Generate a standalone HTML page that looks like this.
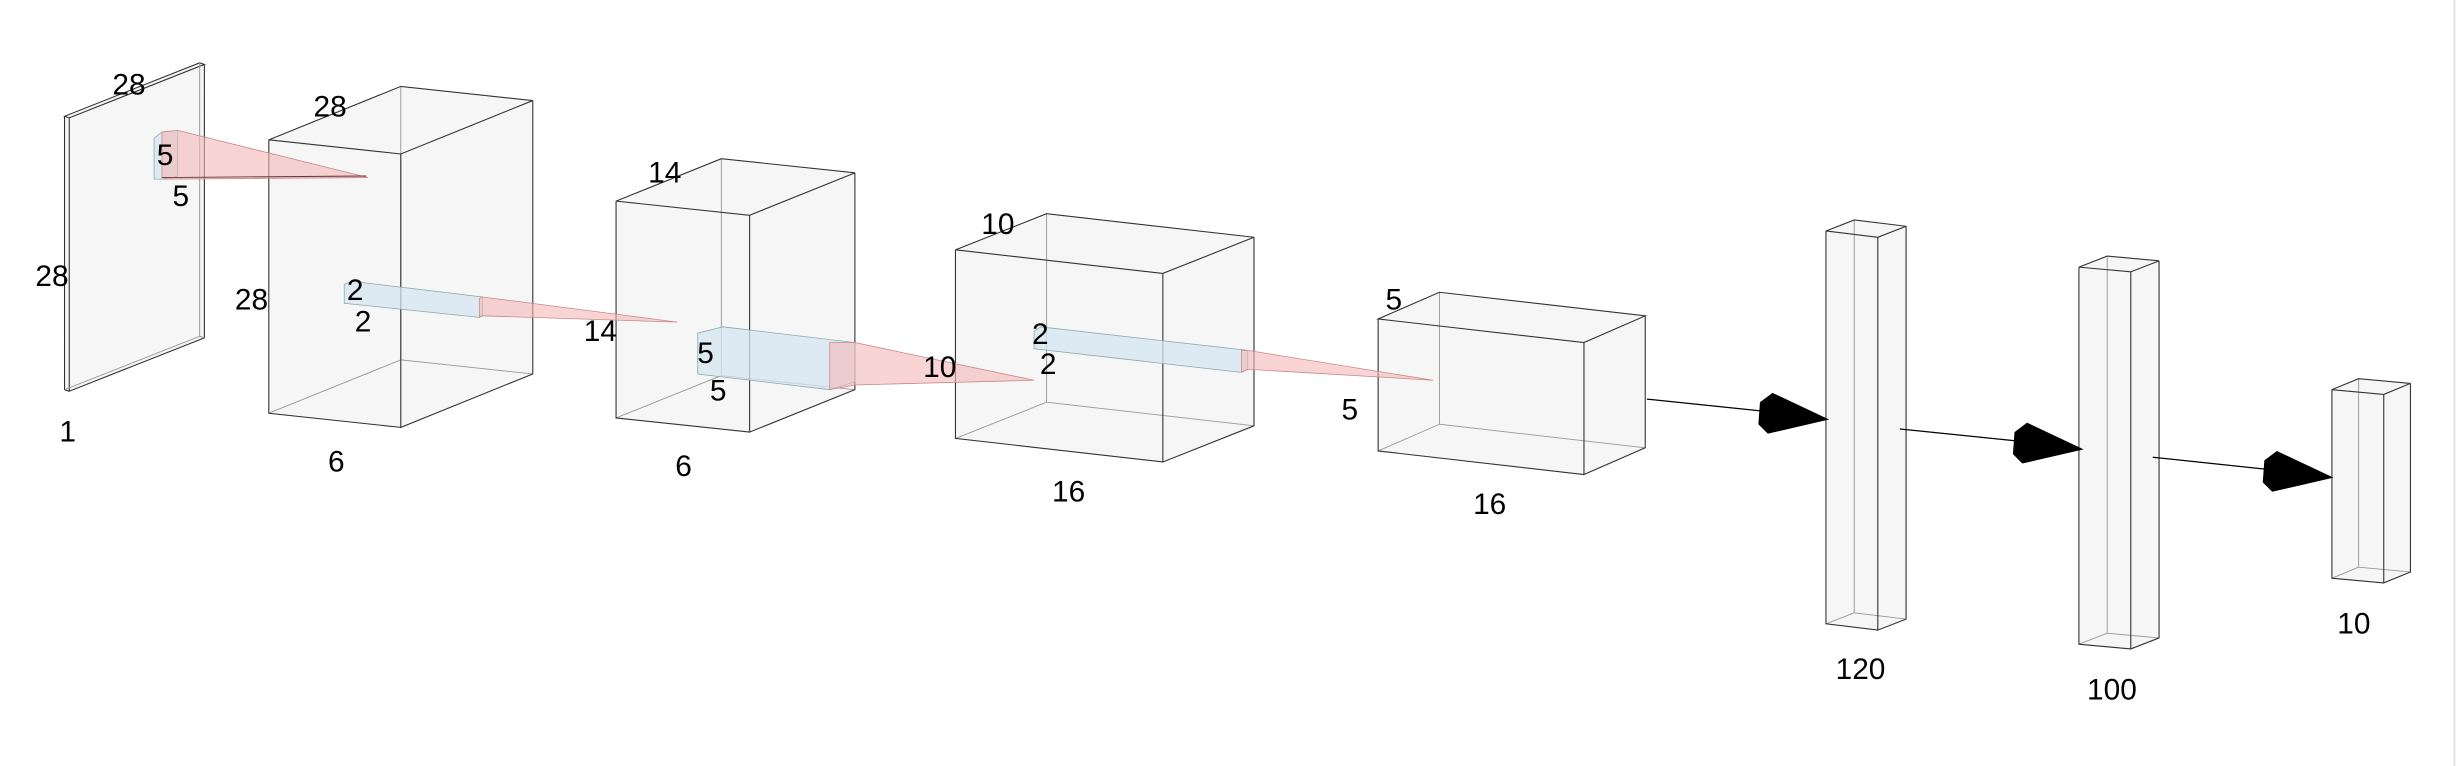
<!DOCTYPE html>
<html><head><meta charset="utf-8"><style>
html,body{margin:0;padding:0;background:#fff}
svg{display:block}
text{font-family:"Liberation Sans",sans-serif;font-size:19px;fill:#000;text-anchor:middle;dominant-baseline:middle}
.h{fill:#f4f4f4;fill-opacity:.85;stroke:none}
.v{fill:none;stroke:#333;stroke-width:.7}
.d{fill:none;stroke:#999;stroke-width:.6}
.bl{fill:#d6e6f2;fill-opacity:.75;stroke:#8aa;stroke-width:.5}
.pk{fill:#f4b8b8;fill-opacity:.6;stroke:#c88;stroke-width:.5}
</style></head><body>
<svg width="2464" height="766" viewBox="0 0 1568 487.5" xmlns="http://www.w3.org/2000/svg">
<rect width="1568" height="488" fill="#fff"/>
<line x1="1562" y1="0" x2="1562" y2="488" stroke="#ddd" stroke-width="1"/>

<!-- plate 1 -->
<polygon class="h" points="41,74 127,40 130,41 130,215 44,249 41,248"/>
<path class="v" d="M41,74 L44,75 L130,41 L127,40 Z M44,75 L44,249 L130,215 L130,41 M41,74 L41,248 L44,249"/>
<path class="d" d="M127,40 L127,214 L130,215 M41,248 L127,214"/>

<!-- box 2 -->
<polygon class="h" points="171,89 255,55 339,64 339,238 255,272 171,263"/>
<path class="d" d="M255,55 L255,229 L339,238 M171,263 L255,229"/>
<path class="v" d="M171,89 L255,98 L339,64 L255,55 Z M255,98 L255,272 L339,238 L339,64 M171,89 L171,263 L255,272"/>

<!-- box 3 -->
<polygon class="h" points="392,128 459,101 544,110 544,248 477,275 392,266"/>
<path class="d" d="M459,101 L459,239 L544,248 M392,266 L459,239"/>
<path class="v" d="M392,128 L477,137 L544,110 L459,101 Z M477,137 L477,275 L544,248 L544,110 M392,128 L392,266 L477,275"/>

<!-- box 4 -->
<polygon class="h" points="608,159 666,136 798,151 798,271 740,294 608,279"/>
<path class="d" d="M666,136 L666,256 L798,271 M608,279 L666,256"/>
<path class="v" d="M608,159 L740,174 L798,151 L666,136 Z M740,174 L740,294 L798,271 L798,151 M608,159 L608,279 L740,294"/>

<!-- box 5 -->
<polygon class="h" points="877,203 916,186 1047,201 1047,285 1008,302 877,287"/>
<path class="d" d="M916,186 L916,270 L1047,285 M877,287 L916,270"/>
<path class="v" d="M877,203 L1008,218 L1047,201 L916,186 Z M1008,218 L1008,302 L1047,285 L1047,201 M877,203 L877,287 L1008,302"/>

<!-- box 6 -->
<polygon class="h" points="1162,147 1180,140 1213,144 1213,394 1195,401 1162,397"/>
<path class="d" d="M1180,140 L1180,390 L1213,394 M1162,397 L1180,390"/>
<path class="v" d="M1162,147 L1195,151 L1213,144 L1180,140 Z M1195,151 L1195,401 L1213,394 L1213,144 M1162,147 L1162,397 L1195,401"/>

<!-- box 7 -->
<polygon class="h" points="1323,170 1341,163 1374,166 1374,406 1356,413 1323,410"/>
<path class="d" d="M1341,163 L1341,403 L1374,406 M1323,410 L1341,403"/>
<path class="v" d="M1323,170 L1356,173 L1374,166 L1341,163 Z M1356,173 L1356,413 L1374,406 L1374,166 M1323,170 L1323,410 L1356,413"/>

<!-- box 8 -->
<polygon class="h" points="1484,248 1501,241 1534,244 1534,364 1517,371 1484,368"/>
<path class="d" d="M1501,241 L1501,361 L1534,364 M1484,368 L1501,361"/>
<path class="v" d="M1484,248 L1517,251 L1534,244 L1501,241 Z M1517,251 L1517,371 L1534,364 L1534,244 M1484,248 L1484,368 L1517,371"/>

<!-- kernel 1 -->
<polygon class="bl" points="98,88 103,84 113,83 113,112 107,114 98,114"/>
<polygon class="pk" points="103,84 113,83 234,113 107,114 103,113"/>
<line x1="103" y1="113" x2="233" y2="112" stroke="#633" stroke-width=".6"/>

<!-- kernel 2 -->
<polygon class="bl" points="219,181 224,179 307,189 307,201 305,202 219,193"/>
<polygon class="pk" points="305,190 307,189 431,205 307,201 305,202"/>

<!-- kernel 3 -->
<polygon class="bl" points="444,212 460,208 544,218 544,243 528,248 444,238"/>
<polygon class="pk" points="528,218 544,218 658,242 544,245 528,248"/>

<!-- kernel 4 -->
<polygon class="bl" points="658,211 662,208 794,223 794,235 790,237 658,222"/>
<polygon class="pk" points="790,223 794,223 912,242 794,235 790,237"/>

<!-- arrows -->
<line x1="1048" y1="254" x2="1125" y2="262" stroke="#000" stroke-width=".8"/>
<polygon fill="#000" points="1164,267 1128,250 1120,256 1119,270 1125,276"/>
<line x1="1209" y1="273" x2="1287" y2="281" stroke="#000" stroke-width=".8"/>
<polygon fill="#000" points="1326,286 1290,269 1282,275 1281,289 1287,295"/>
<line x1="1370" y1="291" x2="1446" y2="299" stroke="#000" stroke-width=".8"/>
<polygon fill="#000" points="1485,304 1449,287 1441,293 1440,307 1446,313"/>

<!-- labels -->
<text x="82" y="55">28</text>
<text x="210" y="69">28</text>
<text x="105" y="100">5</text>
<text x="115" y="126">5</text>
<text x="33" y="177">28</text>
<text x="160" y="192">28</text>
<text x="43" y="276">1</text>
<text x="214" y="295">6</text>
<text x="226" y="186">2</text>
<text x="231" y="206">2</text>
<text x="382" y="212">14</text>
<text x="423" y="111">14</text>
<text x="449" y="226">5</text>
<text x="457" y="250">5</text>
<text x="598" y="235">10</text>
<text x="435" y="298">6</text>
<text x="635" y="144">10</text>
<text x="662" y="214">2</text>
<text x="667" y="233">2</text>
<text x="680" y="314">16</text>
<text x="887" y="192">5</text>
<text x="859" y="262">5</text>
<text x="948" y="322">16</text>
<text x="1184" y="427">120</text>
<text x="1344" y="440">100</text>
<text x="1498" y="398">10</text>
</svg>
</body></html>
